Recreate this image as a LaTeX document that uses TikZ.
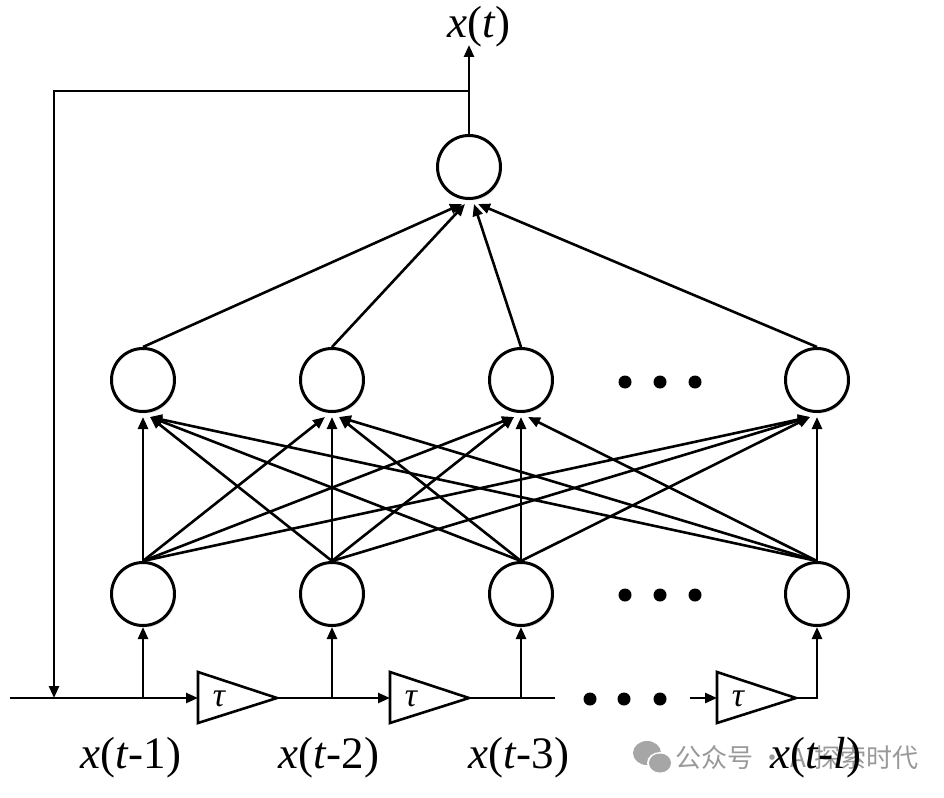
\documentclass[tikz,border=0pt]{standalone}
\usepackage{fontspec}
\setmainfont{Liberation Serif}
\newfontfamily\cjkfont{Noto Sans CJK SC}
\usetikzlibrary{arrows.meta,shadows,calc}
\begin{document}
\begin{tikzpicture}[x=1pt,y=-1pt,
  neuron/.style={circle,draw,line width=3pt,minimum size=63pt,inner sep=0pt,fill=white,
    drop shadow={opacity=0.2,shadow xshift=1.5pt,shadow yshift=-2pt}},
  conn/.style={line width=2.6pt,line join=miter,-{Triangle[length=12pt,width=10pt]}},
  wire/.style={line width=2.6pt},
  lbl/.style={font=\fontsize{45}{48}\selectfont,inner sep=0pt},
  taulbl/.style={font=\itshape\fontsize{34}{36}\selectfont,inner sep=0pt},
  bigdot/.style={circle,fill=black,minimum size=13pt,inner sep=0pt},
  delay/.style={line width=2.6pt,fill=white,line join=miter},
  wm/.style={text=black!40,font=\cjkfont\fontsize{26}{28}\selectfont,inner sep=0pt}
]
\useasboundingbox (0,0) rectangle (944,797);

% neurons
\node[neuron] (o) at (469,167) {};
\foreach \x/\n in {143/1,332/2,521/3,817/4}{
  \node[neuron] (h\n) at (\x,380) {};
  \node[neuron] (i\n) at (\x,594) {};
}
% dots
\foreach \x in {625,660,695}{
  \node[bigdot] at (\x,382) {};
  \node[bigdot] at (\x,595) {};
}
\foreach \x in {590,624,660}{
  \node[bigdot] at (\x,699) {};
}

% connections input -> hidden
\foreach \a in {1,...,4}{
  \foreach \b in {1,...,4}{
    \pgfmathsetmacro{\dx}{ifthenelse(\a>\b,7,ifthenelse(\a<\b,-7,0))}
    \draw[conn] (i\a.north) -- ($(h\b.south)+(\dx,4)$);
  }
}
% hidden -> output
\foreach \a/\dx in {1/-7,2/-4,3/5,4/9}{
  \draw[conn] (h\a.north) -- ($(o.south)+(\dx,4)$);
}

% output and feedback
\coordinate (top) at (469,45);
\coordinate (j) at (469,91);
\coordinate (fl) at (54,91);
\coordinate (fb) at (54,698);
\draw[conn] (o.north) -- (top);
\draw[conn] (j) -- (fl) -- (fb);
\node[lbl] (xt) at (479,27) {\textit{x}(\textit{t})};

% delay line
\foreach \n/\x in {1/198,2/390,3/717}{
  \coordinate (d\n w) at (\x,698);
  \coordinate (d\n e) at (\x+79,698);
  \draw[delay] (\x,672) -- (\x+79,698) -- (\x,723) -- cycle;
  \node[taulbl] (tau\n) at (\x+21,699) {τ};
}
\coordinate (start) at (10,698);
\coordinate (e3) at (555,698);
\coordinate (a3) at (690,698);
\coordinate (c4) at (817,698);
\coordinate (b1) at (143,698);
\coordinate (b2) at (332,698);
\coordinate (b3) at (521,698);
\draw[conn] (start) -- (d1w);
\draw[conn] (d1e) -- (d2w);
\draw[wire] (d2e) -- (e3);
\draw[conn] (a3) -- (d3w);
\draw[conn] (d3e) -- (c4) -- (i4.south);
\draw[conn] (b1) -- (i1.south);
\draw[conn] (b2) -- (i2.south);
\draw[conn] (b3) -- (i3.south);

% watermark
\fill[black!35] (647,753) ellipse (14pt and 12pt);
\fill[white] (660,763) ellipse (13pt and 11pt);
\fill[black!35] (660,763) ellipse (11pt and 9.5pt);
\node[wm,anchor=west] (wmk) at (675,758) {公众号 · AI探索时代};

% labels
\node[lbl] (l1) at (131,758) {\textit{x}(\textit{t}-1)};
\node[lbl] (l2) at (329,758) {\textit{x}(\textit{t}-2)};
\node[lbl] (l3) at (519,758) {\textit{x}(\textit{t}-3)};
\node[lbl] (l4) at (816,758) {\textit{x}(\textit{t}-\textit{l})};
\end{tikzpicture}
\end{document}
